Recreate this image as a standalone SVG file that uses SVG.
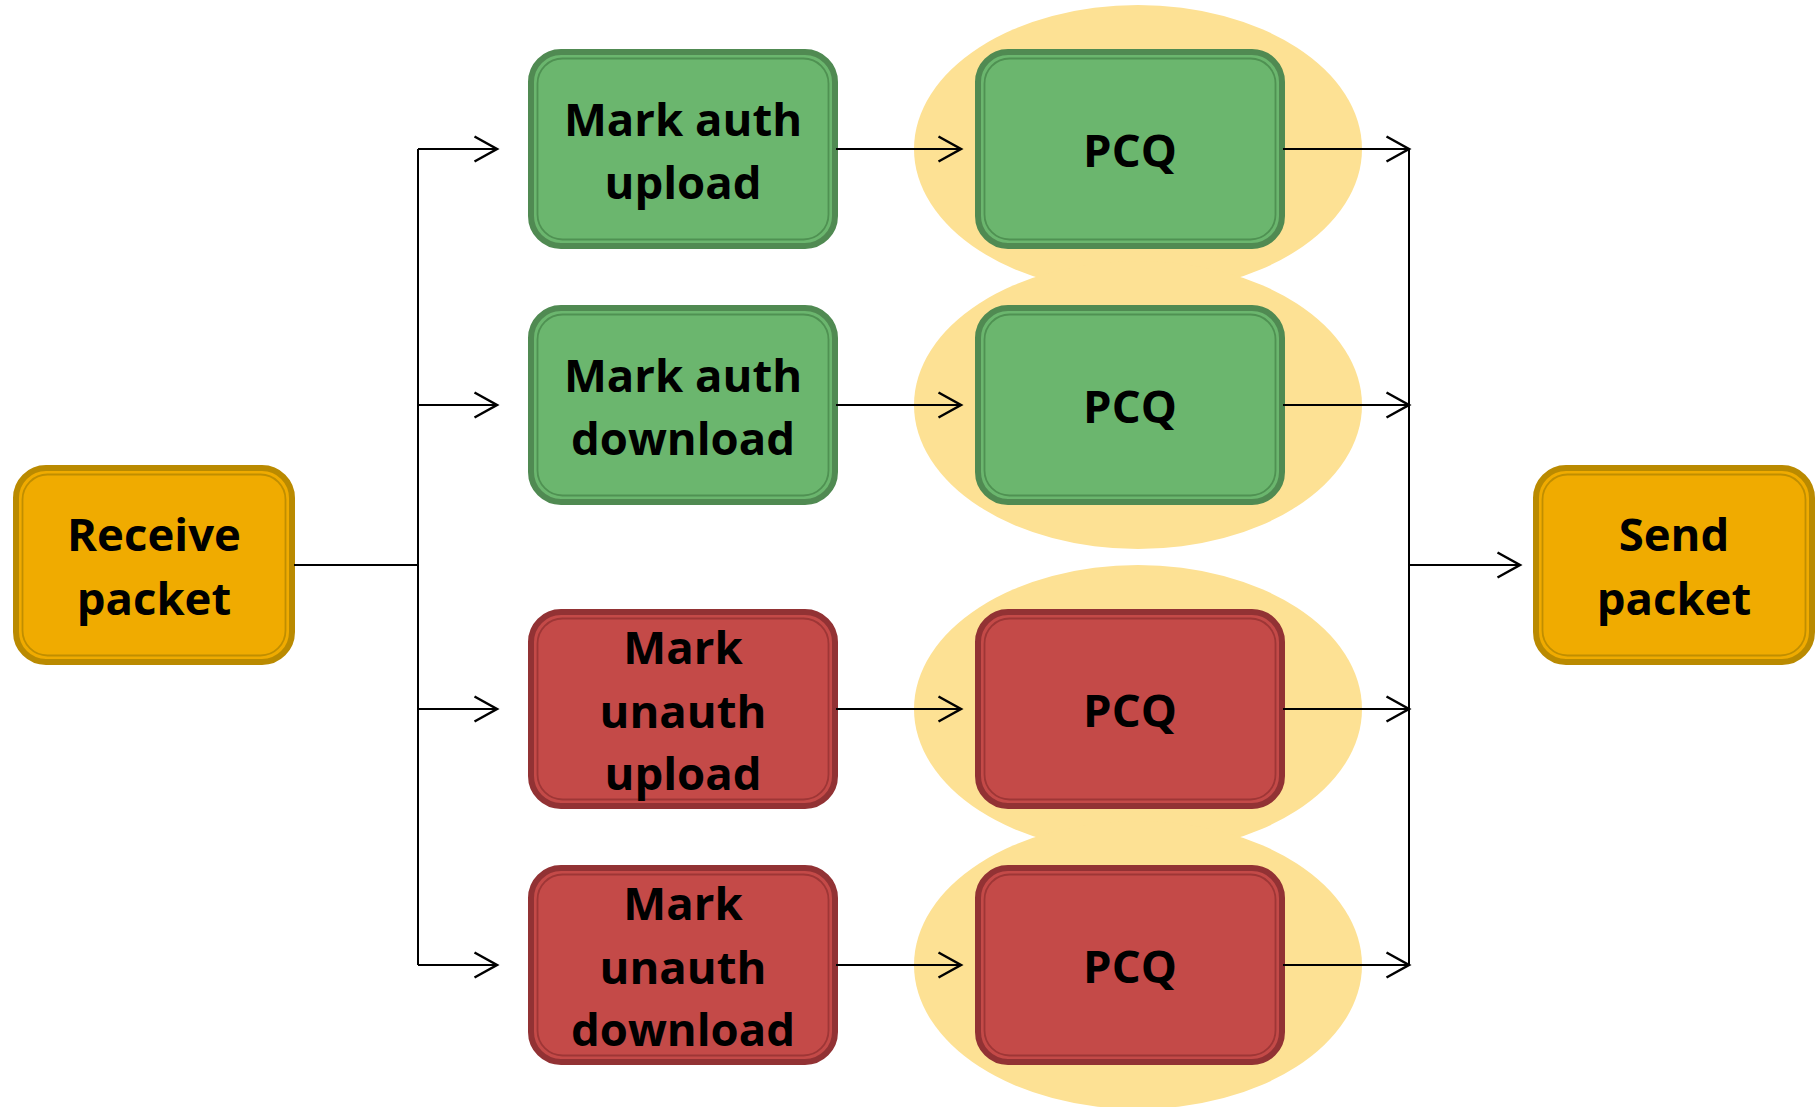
<svg xmlns="http://www.w3.org/2000/svg" width="1820" height="1107" viewBox="0 0 1820 1107">
<defs>
<style>
.bg{fill:#FDE194}
.o .out{fill:#F0AB00;stroke:#BA8A00;stroke-width:6}
.o .in{fill:none;stroke:#C08E00;stroke-width:1.8}
.g .out{fill:#6BB66E;stroke:#508A52;stroke-width:6}
.g .in{fill:none;stroke:#4F9152;stroke-width:1.8}
.r .out{fill:#C44A48;stroke:#923234;stroke-width:6}
.r .in{fill:none;stroke:#9E3636;stroke-width:1.8}
text{font-family:"Open Sans","Liberation Sans",sans-serif;font-weight:700;font-size:45.5px;fill:#000;text-anchor:middle}
.c path{fill:none;stroke:#000;stroke-width:2}
</style>
<marker id="ah" markerUnits="userSpaceOnUse" markerWidth="30" markerHeight="30" viewBox="-20 -12 24 24" refX="0" refY="0" orient="auto">
<path d="M-18,-10 L0,0 L-18,10" fill="none" stroke="#000" stroke-width="2"/>
</marker>
</defs>
<rect width="1820" height="1107" fill="#fff"/>
<g id="halos">
<ellipse class="bg" cx="1138" cy="149" rx="224" ry="144"/>
<ellipse class="bg" cx="1138" cy="405" rx="224" ry="144"/>
<ellipse class="bg" cx="1138" cy="709" rx="224" ry="144"/>
<ellipse class="bg" cx="1138" cy="965" rx="224" ry="144"/>
</g>
<g id="receive" class="o">
<rect class="out" x="16" y="468" width="276" height="194" rx="30"/>
<rect class="in" x="22.5" y="474.5" width="263" height="181" rx="25"/>
<text x="154" y="551">Receive</text>
<text x="154" y="615">packet</text>
</g>
<g id="send" class="o">
<rect class="out" x="1536" y="468" width="276" height="194" rx="30"/>
<rect class="in" x="1542.5" y="474.5" width="263" height="181" rx="25"/>
<text x="1674" y="551">Send</text>
<text x="1674" y="615">packet</text>
</g>
<g id="mark-auth-upload" class="g">
<rect class="out" x="531" y="52" width="304" height="194" rx="30"/>
<rect class="in" x="537.5" y="58.5" width="291" height="181" rx="25"/>
<text x="683" y="136">Mark auth</text>
<text x="683" y="199">upload</text>
</g>
<g id="mark-auth-download" class="g">
<rect class="out" x="531" y="308" width="304" height="194" rx="30"/>
<rect class="in" x="537.5" y="314.5" width="291" height="181" rx="25"/>
<text x="683" y="392">Mark auth</text>
<text x="683" y="455">download</text>
</g>
<g id="mark-unauth-upload" class="r">
<rect class="out" x="531" y="612" width="304" height="194" rx="30"/>
<rect class="in" x="537.5" y="618.5" width="291" height="181" rx="25"/>
<text x="683" y="664">Mark</text>
<text x="683" y="728">unauth</text>
<text x="683" y="790">upload</text>
</g>
<g id="mark-unauth-download" class="r">
<rect class="out" x="531" y="868" width="304" height="194" rx="30"/>
<rect class="in" x="537.5" y="874.5" width="291" height="181" rx="25"/>
<text x="683" y="920">Mark</text>
<text x="683" y="984">unauth</text>
<text x="683" y="1046">download</text>
</g>
<g id="pcq-1" class="g">
<rect class="out" x="978" y="52" width="304" height="194" rx="30"/>
<rect class="in" x="984.5" y="58.5" width="291" height="181" rx="25"/>
<text x="1130" y="167">PCQ</text>
</g>
<g id="pcq-2" class="g">
<rect class="out" x="978" y="308" width="304" height="194" rx="30"/>
<rect class="in" x="984.5" y="314.5" width="291" height="181" rx="25"/>
<text x="1130" y="423">PCQ</text>
</g>
<g id="pcq-3" class="r">
<rect class="out" x="978" y="612" width="304" height="194" rx="30"/>
<rect class="in" x="984.5" y="618.5" width="291" height="181" rx="25"/>
<text x="1130" y="727">PCQ</text>
</g>
<g id="pcq-4" class="r">
<rect class="out" x="978" y="868" width="304" height="194" rx="30"/>
<rect class="in" x="984.5" y="874.5" width="291" height="181" rx="25"/>
<text x="1130" y="983">PCQ</text>
</g>
<g id="connectors" class="c">
<path d="M294,565 H418"/>
<path d="M418,149 V965"/>
<path d="M418,149 H497" marker-end="url(#ah)"/>
<path d="M418,405 H497" marker-end="url(#ah)"/>
<path d="M418,709 H497" marker-end="url(#ah)"/>
<path d="M418,965 H497" marker-end="url(#ah)"/>
<path d="M836,149 H961" marker-end="url(#ah)"/>
<path d="M836,405 H961" marker-end="url(#ah)"/>
<path d="M836,709 H961" marker-end="url(#ah)"/>
<path d="M836,965 H961" marker-end="url(#ah)"/>
<path d="M1283,149 H1409" marker-end="url(#ah)"/>
<path d="M1283,405 H1409" marker-end="url(#ah)"/>
<path d="M1283,709 H1409" marker-end="url(#ah)"/>
<path d="M1283,965 H1409" marker-end="url(#ah)"/>
<path d="M1409,149 V965"/>
<path d="M1409,565 H1520" marker-end="url(#ah)"/>
</g>
</svg>
